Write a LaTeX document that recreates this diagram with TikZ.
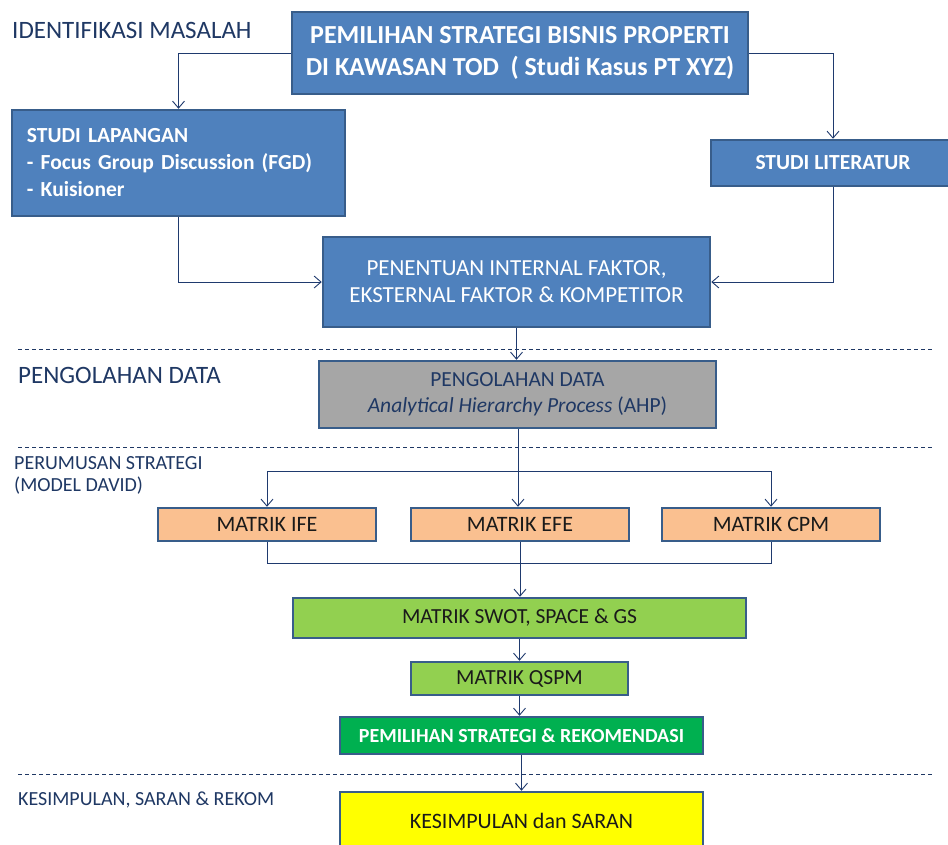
\documentclass[tikz,border=0pt]{standalone}
\usepackage{fontspec}
\setmainfont{Carlito}
\usetikzlibrary{arrows.meta}
\definecolor{bfill}{HTML}{4F81BD}
\definecolor{bdraw}{HTML}{385D8A}
\definecolor{gfill}{HTML}{A6A6A6}
\definecolor{ofill}{HTML}{FAC090}
\definecolor{lgfill}{HTML}{92D050}
\definecolor{dgfill}{HTML}{00B050}
\definecolor{yfill}{HTML}{FFFF00}
\definecolor{lc}{HTML}{1F3A6E}
\definecolor{navy}{HTML}{1F3864}
\definecolor{dtext}{HTML}{1A1A1A}
\newcommand{\fs}[2]{\fontsize{#1}{#2}\selectfont}
\tikzset{
  box/.style={draw=bdraw, line width=2.5pt, inner sep=0pt, align=center},
  bluebox/.style={box, fill=bfill, text=white},
  graybox/.style={box, fill=gfill, text=navy},
  orbox/.style={box, fill=ofill, text=dtext, minimum width=218, minimum height=33, font=\fs{22}{26}},
  lgbox/.style={box, fill=lgfill, text=dtext, font=\fs{21.5}{25}},
  arr/.style={draw=lc, line width=0.9pt, -{Straight Barb[length=7pt,width=12pt]}},
  con/.style={draw=lc, line width=0.9pt},
  sep/.style={draw=navy, line width=1pt, dash pattern=on 4pt off 3pt},
  lbl/.style={text=navy, inner sep=0pt, anchor=base west, align=left}
}
\begin{document}
\begin{tikzpicture}[x=1pt,y=-1pt]
\useasboundingbox (0,0) rectangle (948,844);
\clip (0,0) rectangle (948,844);
\fill[white] (0,0) rectangle (948,844);

% section labels
\node[lbl, font=\fs{25}{28}] (l1) at (12,38) {IDENTIFIKASI MASALAH};
\node[lbl, font=\fs{25}{28}] (l2) at (18,383) {PENGOLAHAN DATA};
\node[lbl, font=\fs{20}{22}, anchor=north west] (l3) at (14,456) {PERUMUSAN STRATEGI\\(MODEL DAVID)};
\node[lbl, font=\fs{20}{22}] (l4) at (18,805) {KESIMPULAN, SARAN \& REKOM};

% separators
\coordinate (s1a) at (18,349); \coordinate (s1b) at (932,349);
\coordinate (s2a) at (18,447); \coordinate (s2b) at (932,447);
\coordinate (s3a) at (18,774); \coordinate (s3b) at (932,774);
\draw[sep] (s1a) -- (s1b);
\draw[sep] (s2a) -- (s2b);
\draw[sep] (s3a) -- (s3b);

% boxes
\node[bluebox, minimum width=456, minimum height=82, font=\bfseries\fs{26}{32}] (top) at (520,53)
  {PEMILIHAN STRATEGI BISNIS PROPERTI\\DI KAWASAN TOD\ \ ( Studi Kasus PT XYZ)};
\node[bluebox, minimum width=333, minimum height=106, text width=303, align=left, font=\bfseries\fs{21.5}{27}] (lap) at (178.5,163)
  {STUDI LAPANGAN\\- Focus Group Discussion (FGD)\\- Kuisioner};
\node[bluebox, minimum width=244, minimum height=46, font=\bfseries\fs{21.5}{24}] (lit) at (833,163) {STUDI LITERATUR};
\node[bluebox, minimum width=387, minimum height=90, font=\fs{23}{27}] (pen) at (516.5,282)
  {PENENTUAN INTERNAL FAKTOR,\\EKSTERNAL FAKTOR \& KOMPETITOR};
\node[graybox, minimum width=397, minimum height=67, font=\fs{21.5}{26}] (ahp) at (517.5,394.5)
  {PENGOLAHAN DATA\\\textit{Analytical Hierarchy Process} (AHP)};
\node[orbox] (ife) at (267,524.5) {MATRIK IFE};
\node[orbox] (efe) at (520,524.5) {MATRIK EFE};
\node[orbox] (cpm) at (771,524.5) {MATRIK CPM};
\node[lgbox, minimum width=453, minimum height=40] (swot) at (519.5,618) {MATRIK SWOT, SPACE \& GS};
\node[lgbox, minimum width=217, minimum height=33] (qspm) at (519.5,678.5) {MATRIK QSPM};
\node[box, fill=dgfill, text=white, minimum width=363, minimum height=37, font=\bfseries\fs{20}{24}] (pil) at (521.5,735.5)
  {PEMILIHAN STRATEGI \& REKOMENDASI};
\node[box, fill=yfill, text=dtext, minimum width=363, minimum height=58, font=\fs{22}{26}] (kes) at (521.5,821)
  {KESIMPULAN dan SARAN};

% connectors
\draw[arr] (top.west) -| (lap.north);
\draw[arr] (top.east) -| (lit.north);
\draw[arr] (lap.south) |- (pen.west);
\draw[arr] (lit.south) |- (pen.east);
\draw[arr] (pen.south) -- (pen.south |- ahp.north);
\coordinate (br) at (518,471);
\draw[arr] (ahp.south -| br) -- (br |- efe.north);
\draw[arr] (br) -| (ife.north);
\draw[arr] (br) -| (cpm.north);
\coordinate (mg) at (520,563);
\draw[con] (ife.south) |- (mg);
\draw[con] (cpm.south) |- (mg);
\draw[con] (efe.south) -- (mg);
\draw[arr] (mg) -- (mg |- swot.north);
\draw[arr] (swot.south -| qspm.north) -- (qspm.north);
\draw[arr] (qspm.south) -- (qspm.south |- pil.north);
\draw[arr] (pil.south) -- (pil.south |- kes.north);
\end{tikzpicture}
\end{document}
